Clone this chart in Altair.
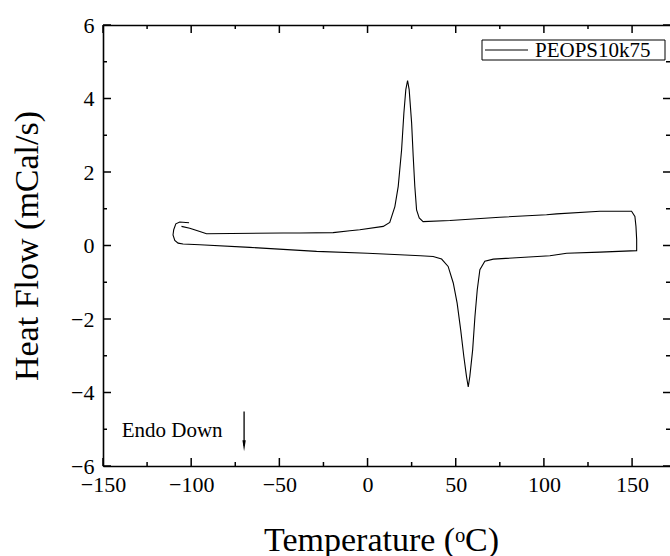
import altair as alt
import pandas as pd

# DSC trace (heating then cooling)
temps = [-101.2, -106.5, -108.7, -109.9, -110.3, -109.3, -107.4, -104.6, -95.1, -66.8,
         -28.9, 0.0, 18.3, 30.0, 37.2, 42.0, 45.7, 48.6, 50.8, 52.8,
         54.6, 56.1, 57.1, 58.0, 59.6, 60.9, 62.2, 63.7, 66.5, 71.3,
         103.4, 112.9, 131.8, 152.6,
         152.6, 152.2, 151.6, 149.7, 145.0,
         131.8, 107.2, 101.5, 75.0, 46.7, 31.5, 29.3, 27.8, 26.8, 25.9,
         25.0, 23.6, 22.7, 21.7, 20.6, 19.3, 17.4, 15.5, 12.6, 8.9,
         -4.4, -10.0, -19.5, -38.4, -47.9, -91.3, -95.1, -100.8, -105.5]
flows = [0.62, 0.64, 0.59, 0.43, 0.29, 0.14, 0.065, 0.04, 0.02, -0.05,
         -0.16, -0.21, -0.25, -0.28, -0.30, -0.37, -0.57, -1.02, -1.57, -2.29,
         -3.02, -3.56, -3.85, -3.56, -2.84, -1.93, -1.21, -0.66, -0.43, -0.37,
         -0.28, -0.21, -0.18, -0.14,
         0.16, 0.52, 0.79, 0.93, 0.93,
         0.93, 0.86, 0.835, 0.77, 0.68, 0.65, 0.75, 0.97, 1.61, 2.42,
         3.33, 4.24, 4.49, 4.24, 3.60, 2.60, 1.61, 1.06, 0.63, 0.52,
         0.43, 0.40, 0.35, 0.34, 0.34, 0.32, 0.38, 0.47, 0.52]

x_major = [-150, -100, -50, 0, 50, 100, 150]
x_minor = [-125, -75, -25, 25, 75, 125]
y_major = [-6, -4, -2, 0, 2, 4, 6]
y_minor = [-5, -3, -1, 1, 3, 5]

series_name = ["PEOPS10k75"]
note_text = ["Endo Down"]
arrow_x = [-70]
arrow_top = [-4.52]
arrow_head = [-5.45]

FONT = "Liberation Serif"
W, H = 567, 441
df = pd.DataFrame({"T": temps, "HF": flows, "i": list(range(len(temps)))})

xs = alt.Scale(domain=[-150, 171.5], nice=False, zero=False)
ys = alt.Scale(domain=[-6, 6], nice=False, zero=False)

line = alt.Chart(df).mark_line(color="black", strokeWidth=1.1).encode(
    x=alt.X("T:Q", scale=xs, axis=alt.Axis(
        orient="bottom", values=x_major, ticks=False, domain=True,
        domainColor="black", domainWidth=1.6, grid=False,
        labelFont=FONT, labelFontSize=22, labelColor="black", labelPadding=8,
        labelFlush=False, labelOverlap=False, labelBound=False,
        title="Temperature (ᵒC)", titleFont=FONT, titleFontSize=34,
        titleFontWeight="normal", titleColor="black", titleX=278, titleY=84,
        titleBaseline="alphabetic", titleAlign="center")),
    y=alt.Y("HF:Q", scale=ys, axis=alt.Axis(
        orient="left", values=y_major, ticks=False, domain=True,
        domainColor="black", domainWidth=1.6, grid=False,
        labelFont=FONT, labelFontSize=22, labelColor="black", labelPadding=9,
        labelOverlap=False, labelBound=False,
        title="Heat Flow (mCal/s)", titleFont=FONT, titleFontSize=34,
        titleFontWeight="normal", titleColor="black", titleX=-66,
        titleBaseline="alphabetic")),
    order="i:Q",
)

top_dom = alt.Chart(df).mark_point(opacity=0).encode(
    x=alt.X("T:Q", scale=xs, axis=alt.Axis(orient="top", ticks=False, labels=False,
                                           domain=True, domainColor="black",
                                           domainWidth=1.6, grid=False, title=None)),
    y=alt.Y("HF:Q", scale=ys, axis=None))


def xticks(values, y0, y1):
    return alt.Chart(pd.DataFrame({"v": values})).mark_rule(
        color="black", strokeWidth=1.5).encode(
        x=alt.X("v:Q", scale=xs, axis=None), y=alt.value(y0), y2=alt.value(y1))


def yticks(values, x0, x1):
    return alt.Chart(pd.DataFrame({"v": values})).mark_rule(
        color="black", strokeWidth=1.5).encode(
        y=alt.Y("v:Q", scale=ys, axis=None), x=alt.value(x0), x2=alt.value(x1))


ticks = [
    xticks(x_major, H, H - 8), xticks(x_minor, H, H - 4),
    xticks(x_major, 0, 8), xticks(x_minor, 0, 4),
    yticks(y_major, 0, 8), yticks(y_minor, 0, 4),
    yticks(y_major, W, W - 7), yticks(y_minor, W, W - 4),
]

one = pd.DataFrame({"name": series_name, "note": note_text})
leg_box = alt.Chart(one).mark_rect(fill="white", stroke="black", strokeWidth=1).encode(
    x=alt.value(379), x2=alt.value(562), y=alt.value(15), y2=alt.value(35))
leg_line = alt.Chart(one).mark_rule(color="black", strokeWidth=1).encode(
    x=alt.value(382), x2=alt.value(425), y=alt.value(25))
leg_text = alt.Chart(one).mark_text(font=FONT, fontSize=21, align="left",
                                    baseline="alphabetic", color="black").encode(
    x=alt.value(432), y=alt.value(31.5), text="name:N")
note = alt.Chart(one).mark_text(font=FONT, fontSize=21, align="left",
                                baseline="alphabetic", color="black").encode(
    x=alt.value(18.7), y=alt.value(412.3), text="note:N")

arr = pd.DataFrame({"x": arrow_x, "y": arrow_top, "y2": arrow_head})
arrow_shaft = alt.Chart(arr).mark_rule(color="black", strokeWidth=1.3).encode(
    x=alt.X("x:Q", scale=xs, axis=None),
    y=alt.Y("y:Q", scale=ys, axis=None), y2="y2:Q")
arrow_tip = alt.Chart(arr).mark_point(shape="M-0.3,-1L0.3,-1L0,1Z", filled=True,
                                      size=121, color="black", opacity=1).encode(
    x=alt.X("x:Q", scale=xs, axis=None),
    y=alt.Y("y2:Q", scale=ys, axis=None))

chart = alt.layer(
    line, top_dom, *ticks,
    leg_box, leg_line, leg_text, note, arrow_shaft, arrow_tip
).resolve_axis(x="independent", y="independent").properties(
    width=W, height=H,
    autosize=alt.AutoSizeParams(type="none"),
    padding={"left": 103, "top": 25, "right": 0, "bottom": 90},
    background="white",
).configure_view(stroke=None)

chart.save("out.html", embed_options={"renderer": "svg", "actions": False})
